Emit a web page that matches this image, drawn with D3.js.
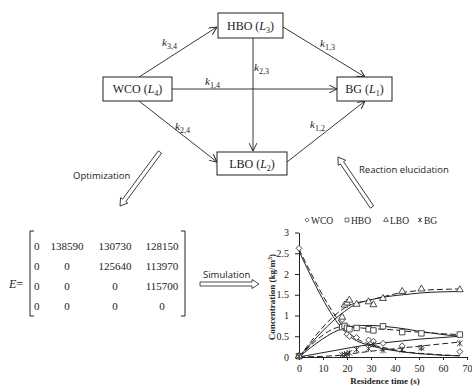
<!DOCTYPE html>
<html>
<head>
<meta charset="utf-8">
<script src="https://cdn.jsdelivr.net/npm/d3@7"></script>
<style>
  body { margin: 0; background: #fff; }
  svg { display: block; }
  text { fill: #222; }
  .serif { font-family: "Liberation Serif", "DejaVu Serif", serif; }
  .sans { font-family: "Open Sans", "Liberation Sans", sans-serif; }
</style>
</head>
<body>
<svg width="472" height="387"></svg>
<script>
// experimental points (s, kg/m3)
const times = [0, 18, 19, 20, 21, 24, 29, 31, 35, 43, 51, 67];
const wcoExp = [2.62, 0.9, 0.75, 0.55, 0.5, 0.47, 0.41, 0.38, 0.33, 0.27, 0.22, 0.13];
const hboExp = [0.02, 0.72, 0.75, 0.7, 0.67, 0.7, 0.67, 0.64, 0.74, 0.6, 0.57, 0.54];
const lboExp = [0.02, 0.96, 1.25, 1.3, 1.37, 1.27, 1.33, 1.26, 1.41, 1.58, 1.64, 1.62];
const bgExp = [0.02, 0.05, 0.06, 0.07, 0.1, 0.18, 0.2, 0.3, 0.16, 0.17, 0.22, 0.33];

// model curves
const modelTimes = [0, 19, 22, 26, 30, 35, 40, 45, 50, 55, 60, 67];
const wcoSolid = [2.55, 0.62, 0.46, 0.34, 0.27, 0.2, 0.15, 0.11, 0.08, 0.06, 0.04, 0.03];
const wcoDashed = [2.6, 0.7, 0.52, 0.38, 0.3, 0.23, 0.17, 0.12, 0.09, 0.07, 0.05, 0.03];
const hboSolid = [0, 0.7, 0.74, 0.76, 0.76, 0.74, 0.71, 0.67, 0.62, 0.58, 0.54, 0.5];
const hboDashed = [0, 0.74, 0.72, 0.7, 0.68, 0.67, 0.65, 0.62, 0.6, 0.58, 0.56, 0.54];
const lboSolid = [0, 1.1, 1.22, 1.32, 1.38, 1.44, 1.48, 1.51, 1.54, 1.56, 1.57, 1.58];
const lboDashed = [0, 1.18, 1.27, 1.33, 1.38, 1.45, 1.52, 1.57, 1.6, 1.62, 1.63, 1.64];
const bgSolid = [0, 0.2, 0.23, 0.27, 0.3, 0.34, 0.37, 0.4, 0.43, 0.45, 0.47, 0.5];
const bgDashed = [0, 0.05, 0.08, 0.11, 0.14, 0.17, 0.2, 0.23, 0.26, 0.29, 0.32, 0.36];

const xTicks = [0, 10, 20, 30, 40, 50, 60, 70];
const yTicks = [0, 0.5, 1, 1.5, 2, 2.5, 3];

// activation energy matrix
const matrixRows = [
  ["0", "138590", "130730", "128150"],
  ["0", "0", "125640", "113970"],
  ["0", "0", "0", "115700"],
  ["0", "0", "0", "0"],
];

const svg = d3.select("svg");
const ink = "#222";

// ---------- reaction network ----------
const boxes = [
  { name: "HBO", sub: "3", x: 218, y: 13, w: 65, h: 25 },
  { name: "WCO", sub: "4", x: 103, y: 77, w: 69, h: 24 },
  { name: "BG", sub: "1", x: 337, y: 77, w: 55, h: 24 },
  { name: "LBO", sub: "2", x: 217, y: 152, w: 70, h: 23 },
];

svg
  .append("defs")
  .append("marker")
  .attr("id", "vhead")
  .attr("viewBox", "0 0 10 10")
  .attr("refX", 10)
  .attr("refY", 5)
  .attr("markerWidth", 8)
  .attr("markerHeight", 8)
  .attr("markerUnits", "userSpaceOnUse")
  .attr("orient", "auto")
  .append("path")
  .attr("d", "M0,0 L10,5 L0,10")
  .attr("fill", "none")
  .attr("stroke", ink)
  .attr("stroke-width", 1.2);

const links = [
  { x1: 139, y1: 77, x2: 217, y2: 27, k: "3,4", lx: 162, ly: 46 },
  { x1: 283, y1: 27, x2: 365, y2: 77, k: "1,3", lx: 320, ly: 47 },
  { x1: 253, y1: 38, x2: 253, y2: 151, k: "2,3", lx: 254, ly: 71 },
  { x1: 172, y1: 89, x2: 337, y2: 89, k: "1,4", lx: 205, ly: 85 },
  { x1: 139, y1: 101, x2: 217, y2: 162, k: "2,4", lx: 175, ly: 130 },
  { x1: 287, y1: 162, x2: 365, y2: 101, k: "1,2", lx: 310, ly: 128 },
];

svg
  .append("g")
  .selectAll("line")
  .data(links)
  .enter()
  .append("line")
  .attr("x1", (d) => d.x1)
  .attr("y1", (d) => d.y1)
  .attr("x2", (d) => d.x2)
  .attr("y2", (d) => d.y2)
  .attr("stroke", ink)
  .attr("stroke-width", 0.9)
  .attr("marker-end", "url(#vhead)");

const kLabels = svg
  .append("g")
  .selectAll("text")
  .data(links)
  .enter()
  .append("text")
  .attr("class", "serif")
  .attr("x", (d) => d.lx)
  .attr("y", (d) => d.ly)
  .style("font-size", "11px");
kLabels.append("tspan").style("font-style", "italic").text("k");
kLabels
  .append("tspan")
  .attr("dy", 3)
  .style("font-size", "8px")
  .text((d) => d.k);

const boxG = svg
  .append("g")
  .selectAll("g")
  .data(boxes)
  .enter()
  .append("g");
boxG
  .append("rect")
  .attr("x", (d) => d.x)
  .attr("y", (d) => d.y)
  .attr("width", (d) => d.w)
  .attr("height", (d) => d.h)
  .attr("fill", "#fff")
  .attr("stroke", ink)
  .attr("stroke-width", 1);
const boxText = boxG
  .append("text")
  .attr("class", "serif")
  .attr("x", (d) => d.x + d.w / 2)
  .attr("y", (d) => d.y + d.h / 2 + 4)
  .attr("text-anchor", "middle")
  .style("font-size", "12px");
boxText.append("tspan").text((d) => d.name + " (");
boxText.append("tspan").style("font-style", "italic").text("L");
boxText
  .append("tspan")
  .attr("dy", 3)
  .style("font-size", "8px")
  .text((d) => d.sub);
boxText.append("tspan").attr("dy", -3).text(")");

// ---------- hollow block arrows ----------
function blockArrow(x1, y1, x2, y2) {
  const len = Math.hypot(x2 - x1, y2 - y1);
  const ang = (Math.atan2(y2 - y1, x2 - x1) * 180) / Math.PI;
  const sw = 2, hw = 4.5, hl = 7;
  const pts = [
    [0, -sw], [len - hl, -sw], [len - hl, -hw], [len, 0],
    [len - hl, hw], [len - hl, sw], [0, sw],
  ];
  svg
    .append("polygon")
    .attr("points", pts.map((p) => p.join(",")).join(" "))
    .attr("transform", `translate(${x1},${y1}) rotate(${ang})`)
    .attr("fill", "#fff")
    .attr("stroke", ink)
    .attr("stroke-width", 0.8);
}

blockArrow(160, 152, 120, 206);
blockArrow(372, 207, 338, 157);
blockArrow(200, 284, 259, 284);

svg.append("text").attr("class", "sans").attr("x", 73).attr("y", 179)
  .style("font-size", "9.5px").text("Optimization");
svg.append("text").attr("class", "sans").attr("x", 359).attr("y", 173)
  .style("font-size", "9.5px").text("Reaction elucidation");
svg.append("text").attr("class", "sans").attr("x", 203).attr("y", 278)
  .style("font-size", "9.5px").text("Simulation");

// ---------- matrix ----------
const eLabel = svg.append("text").attr("class", "serif")
  .attr("x", 9).attr("y", 288).style("font-size", "12px");
eLabel.append("tspan").style("font-style", "italic").text("E");
eLabel.append("tspan").text("=");

const colX = [34, 67, 115, 162];
const rowY = d3.scaleLinear().domain([0, 3]).range([246, 306]);
matrixRows.forEach((row, i) => {
  svg
    .append("g")
    .selectAll("text")
    .data(row)
    .enter()
    .append("text")
    .attr("class", "serif")
    .attr("x", (d, j) => colX[j])
    .attr("y", rowY(i) + 4)
    .attr("text-anchor", (d, j) => (j === 0 ? "start" : "middle"))
    .style("font-size", "11px")
    .text((d) => d);
});
svg.append("path").attr("d", "M34,231 H30 V316 H34")
  .attr("fill", "none").attr("stroke", ink).attr("stroke-width", 1);
svg.append("path").attr("d", "M181,231 H185 V316 H181")
  .attr("fill", "none").attr("stroke", ink).attr("stroke-width", 1);

// ---------- concentration chart ----------
const xScale = d3.scaleLinear().domain([0, 70]).range([299, 467]);
const yScale = d3.scaleLinear().domain([0, 3]).range([357, 232.5]);

svg
  .append("g")
  .attr("class", "serif")
  .attr("transform", "translate(0,357)")
  .call(d3.axisBottom(xScale).tickValues(xTicks).tickSize(3).tickFormat(d3.format("d")))
  .call((g) => g.selectAll("text").style("font-size", "10px").attr("dy", "0.9em"))
  .call((g) => g.selectAll("line,path").attr("stroke", ink));

svg
  .append("g")
  .attr("class", "serif")
  .attr("transform", "translate(299,0)")
  .call(d3.axisLeft(yScale).tickValues(yTicks).tickSize(4).tickSizeOuter(0).tickFormat((d) => String(d)))
  .call((g) => g.selectAll("text").style("font-size", "10px").attr("dx", "-3"))
  .call((g) => g.selectAll("line,path").attr("stroke", ink));

svg.append("text").attr("class", "serif").attr("x", 385).attr("y", 384)
  .attr("text-anchor", "middle").style("font-size", "9px").style("font-weight", "bold")
  .text("Residence time (s)");
const yTitle = svg.append("text").attr("class", "serif")
  .attr("transform", "translate(275,297) rotate(-90)")
  .attr("text-anchor", "middle").style("font-size", "9px").style("font-weight", "bold");
yTitle.append("tspan").text("Concentration (kg/m");
yTitle.append("tspan").attr("dy", -3).style("font-size", "6px").text("3");
yTitle.append("tspan").attr("dy", 3).text(")");

const line = d3
  .line()
  .x((d) => xScale(d[0]))
  .y((d) => yScale(d[1]))
  .curve(d3.curveMonotoneX);

const curves = [
  [wcoSolid, null], [wcoDashed, "6,3"],
  [hboSolid, null], [hboDashed, "6,3"],
  [lboSolid, null], [lboDashed, "6,3"],
  [bgSolid, null], [bgDashed, "6,3"],
];
svg
  .append("g")
  .selectAll("path")
  .data(curves)
  .enter()
  .append("path")
  .attr("d", (d) => line(modelTimes.map((t, i) => [t, d[0][i]])))
  .attr("fill", "none")
  .attr("stroke", ink)
  .attr("stroke-width", 1)
  .attr("stroke-dasharray", (d) => d[1]);

const sym = {
  diamond: d3.symbol().type(d3.symbolDiamond2).size(22)(),
  square: d3.symbol().type(d3.symbolSquare2).size(38)(),
  triangle: d3.symbol().type(d3.symbolTriangle2).size(34)(),
  asterisk: d3.symbol().type(d3.symbolTimes).size(22)(),
};

const series = [
  { vals: wcoExp, shape: "diamond" },
  { vals: hboExp, shape: "square" },
  { vals: lboExp, shape: "triangle" },
  { vals: bgExp, shape: "asterisk" },
];
series.forEach((s) => {
  svg
    .append("g")
    .selectAll("path")
    .data(times.map((t, i) => [t, s.vals[i]]))
    .enter()
    .append("path")
    .attr("d", sym[s.shape])
    .attr("transform", (d) => `translate(${xScale(d[0])},${yScale(d[1])})`)
    .attr("fill", s.shape === "asterisk" ? ink : "#fff")
    .attr("stroke", ink)
    .attr("stroke-width", 0.8);
  if (s.shape === "asterisk") {
    svg
      .append("g")
      .selectAll("line")
      .data(times.map((t, i) => [t, s.vals[i]]))
      .enter()
      .append("line")
      .attr("x1", (d) => xScale(d[0]))
      .attr("x2", (d) => xScale(d[0]))
      .attr("y1", (d) => yScale(d[1]) - 3)
      .attr("y2", (d) => yScale(d[1]) + 3)
      .attr("stroke", ink)
      .attr("stroke-width", 0.8);
  }
});

// legend
const legendItems = [
  { label: "WCO", shape: "diamond", x: 307 },
  { label: "HBO", shape: "square", x: 347 },
  { label: "LBO", shape: "triangle", x: 386 },
  { label: "BG", shape: "asterisk", x: 420 },
];
const legendSym = {
  diamond: d3.symbol().type(d3.symbolDiamond2).size(12)(),
  square: d3.symbol().type(d3.symbolSquare2).size(18)(),
  triangle: d3.symbol().type(d3.symbolTriangle2).size(16)(),
  asterisk: d3.symbol().type(d3.symbolTimes).size(12)(),
};
const lg = svg.append("g").selectAll("g").data(legendItems).enter().append("g")
  .attr("transform", (d) => `translate(${d.x},220)`);
lg.append("path")
  .attr("d", (d) => legendSym[d.shape])
  .attr("fill", "none")
  .attr("stroke", ink)
  .attr("stroke-width", 0.7);
lg.filter((d) => d.shape === "asterisk").append("line")
  .attr("y1", -2.5).attr("y2", 2.5).attr("stroke", ink).attr("stroke-width", 0.7);
lg.append("text").attr("class", "serif").attr("x", 4).attr("y", 3.5)
  .style("font-size", "9.5px").text((d) => d.label);
</script>
</body>
</html>
